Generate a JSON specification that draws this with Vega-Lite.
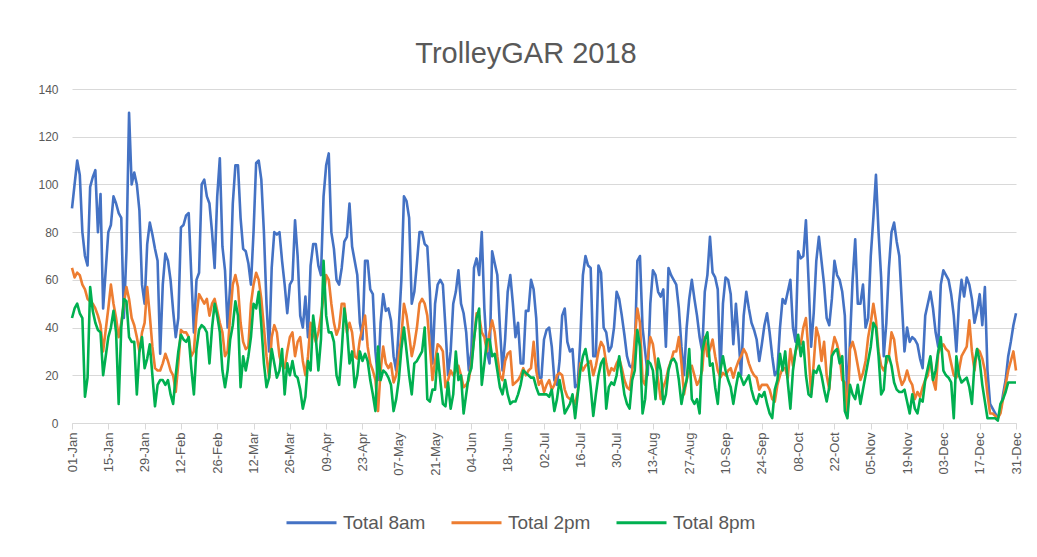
{
"$schema":"https://vega.github.io/schema/vega-lite/v6.json",
"width":944,"height":334,
"autosize":"none",
"padding":{"left":72,"top":89,"right":21,"bottom":134},
"background":"white",
"title":{"text":"TrolleyGAR 2018","font":"Liberation Sans","fontSize":29,"fontWeight":"normal","color":"#595959","anchor":"middle","dx":-18,"offset":14},
"config":{"view":{"stroke":null},"font":"Liberation Sans"},
"data":{"values":[
{"d":"2018-01-01","Total 8am":90,"Total 2pm":65,"Total 8pm":44},
{"d":"2018-01-02","Total 8am":100,"Total 2pm":61,"Total 8pm":48},
{"d":"2018-01-03","Total 8am":110,"Total 2pm":63,"Total 8pm":50},
{"d":"2018-01-04","Total 8am":104,"Total 2pm":62,"Total 8pm":46},
{"d":"2018-01-05","Total 8am":80,"Total 2pm":58,"Total 8pm":44},
{"d":"2018-01-06","Total 8am":70,"Total 2pm":56,"Total 8pm":11},
{"d":"2018-01-07","Total 8am":66,"Total 2pm":52,"Total 8pm":19},
{"d":"2018-01-08","Total 8am":99,"Total 2pm":51,"Total 8pm":57},
{"d":"2018-01-09","Total 8am":103,"Total 2pm":50,"Total 8pm":47},
{"d":"2018-01-10","Total 8am":106,"Total 2pm":48,"Total 8pm":42},
{"d":"2018-01-11","Total 8am":80,"Total 2pm":45,"Total 8pm":39},
{"d":"2018-01-12","Total 8am":96,"Total 2pm":41,"Total 8pm":38},
{"d":"2018-01-13","Total 8am":48,"Total 2pm":30,"Total 8pm":20},
{"d":"2018-01-14","Total 8am":64,"Total 2pm":39,"Total 8pm":28},
{"d":"2018-01-15","Total 8am":80,"Total 2pm":48,"Total 8pm":36},
{"d":"2018-01-16","Total 8am":83,"Total 2pm":58,"Total 8pm":40},
{"d":"2018-01-17","Total 8am":95,"Total 2pm":50,"Total 8pm":47},
{"d":"2018-01-18","Total 8am":92,"Total 2pm":44,"Total 8pm":38},
{"d":"2018-01-19","Total 8am":88,"Total 2pm":36,"Total 8pm":8},
{"d":"2018-01-20","Total 8am":86,"Total 2pm":42,"Total 8pm":40},
{"d":"2018-01-21","Total 8am":44,"Total 2pm":50,"Total 8pm":52},
{"d":"2018-01-22","Total 8am":72,"Total 2pm":57,"Total 8pm":51},
{"d":"2018-01-23","Total 8am":130,"Total 2pm":52,"Total 8pm":36},
{"d":"2018-01-24","Total 8am":100,"Total 2pm":44,"Total 8pm":34},
{"d":"2018-01-25","Total 8am":105,"Total 2pm":41,"Total 8pm":34},
{"d":"2018-01-26","Total 8am":100,"Total 2pm":36,"Total 8pm":12},
{"d":"2018-01-27","Total 8am":89,"Total 2pm":30,"Total 8pm":30},
{"d":"2018-01-28","Total 8am":58,"Total 2pm":38,"Total 8pm":36},
{"d":"2018-01-29","Total 8am":50,"Total 2pm":42,"Total 8pm":23},
{"d":"2018-01-30","Total 8am":75,"Total 2pm":57,"Total 8pm":27},
{"d":"2018-01-31","Total 8am":84,"Total 2pm":45,"Total 8pm":33},
{"d":"2018-02-01","Total 8am":79,"Total 2pm":32,"Total 8pm":20},
{"d":"2018-02-02","Total 8am":73,"Total 2pm":23,"Total 8pm":7},
{"d":"2018-02-03","Total 8am":68,"Total 2pm":22,"Total 8pm":16},
{"d":"2018-02-04","Total 8am":29,"Total 2pm":22,"Total 8pm":18},
{"d":"2018-02-05","Total 8am":58,"Total 2pm":25,"Total 8pm":18},
{"d":"2018-02-06","Total 8am":71,"Total 2pm":29,"Total 8pm":16},
{"d":"2018-02-07","Total 8am":68,"Total 2pm":26,"Total 8pm":18},
{"d":"2018-02-08","Total 8am":60,"Total 2pm":22,"Total 8pm":12},
{"d":"2018-02-09","Total 8am":47,"Total 2pm":20,"Total 8pm":8},
{"d":"2018-02-10","Total 8am":36,"Total 2pm":13,"Total 8pm":20},
{"d":"2018-02-11","Total 8am":44,"Total 2pm":25,"Total 8pm":30},
{"d":"2018-02-12","Total 8am":82,"Total 2pm":39,"Total 8pm":37},
{"d":"2018-02-13","Total 8am":83,"Total 2pm":38,"Total 8pm":35},
{"d":"2018-02-14","Total 8am":87,"Total 2pm":38,"Total 8pm":34},
{"d":"2018-02-15","Total 8am":88,"Total 2pm":36,"Total 8pm":36},
{"d":"2018-02-16","Total 8am":62,"Total 2pm":28,"Total 8pm":23},
{"d":"2018-02-17","Total 8am":38,"Total 2pm":30,"Total 8pm":12},
{"d":"2018-02-18","Total 8am":60,"Total 2pm":45,"Total 8pm":31},
{"d":"2018-02-19","Total 8am":63,"Total 2pm":54,"Total 8pm":39},
{"d":"2018-02-20","Total 8am":100,"Total 2pm":52,"Total 8pm":41},
{"d":"2018-02-21","Total 8am":102,"Total 2pm":50,"Total 8pm":40},
{"d":"2018-02-22","Total 8am":95,"Total 2pm":52,"Total 8pm":38},
{"d":"2018-02-23","Total 8am":92,"Total 2pm":45,"Total 8pm":25},
{"d":"2018-02-24","Total 8am":80,"Total 2pm":50,"Total 8pm":40},
{"d":"2018-02-25","Total 8am":65,"Total 2pm":52,"Total 8pm":50},
{"d":"2018-02-26","Total 8am":95,"Total 2pm":47,"Total 8pm":45},
{"d":"2018-02-27","Total 8am":111,"Total 2pm":42,"Total 8pm":38},
{"d":"2018-02-28","Total 8am":74,"Total 2pm":38,"Total 8pm":22},
{"d":"2018-03-01","Total 8am":64,"Total 2pm":28,"Total 8pm":15},
{"d":"2018-03-02","Total 8am":40,"Total 2pm":30,"Total 8pm":22},
{"d":"2018-03-03","Total 8am":58,"Total 2pm":45,"Total 8pm":35},
{"d":"2018-03-04","Total 8am":92,"Total 2pm":58,"Total 8pm":41},
{"d":"2018-03-05","Total 8am":108,"Total 2pm":62,"Total 8pm":51},
{"d":"2018-03-06","Total 8am":108,"Total 2pm":57,"Total 8pm":45},
{"d":"2018-03-07","Total 8am":86,"Total 2pm":42,"Total 8pm":15},
{"d":"2018-03-08","Total 8am":73,"Total 2pm":34,"Total 8pm":28},
{"d":"2018-03-09","Total 8am":72,"Total 2pm":31,"Total 8pm":22},
{"d":"2018-03-10","Total 8am":67,"Total 2pm":32,"Total 8pm":28},
{"d":"2018-03-11","Total 8am":58,"Total 2pm":50,"Total 8pm":36},
{"d":"2018-03-12","Total 8am":80,"Total 2pm":58,"Total 8pm":50},
{"d":"2018-03-13","Total 8am":109,"Total 2pm":63,"Total 8pm":48},
{"d":"2018-03-14","Total 8am":110,"Total 2pm":60,"Total 8pm":55},
{"d":"2018-03-15","Total 8am":102,"Total 2pm":52,"Total 8pm":41},
{"d":"2018-03-16","Total 8am":80,"Total 2pm":40,"Total 8pm":25},
{"d":"2018-03-17","Total 8am":50,"Total 2pm":28,"Total 8pm":15},
{"d":"2018-03-18","Total 8am":30,"Total 2pm":19,"Total 8pm":19},
{"d":"2018-03-19","Total 8am":65,"Total 2pm":36,"Total 8pm":31},
{"d":"2018-03-20","Total 8am":80,"Total 2pm":41,"Total 8pm":25},
{"d":"2018-03-21","Total 8am":79,"Total 2pm":38,"Total 8pm":19},
{"d":"2018-03-22","Total 8am":80,"Total 2pm":28,"Total 8pm":22},
{"d":"2018-03-23","Total 8am":68,"Total 2pm":24,"Total 8pm":31},
{"d":"2018-03-24","Total 8am":58,"Total 2pm":23,"Total 8pm":12},
{"d":"2018-03-25","Total 8am":46,"Total 2pm":30,"Total 8pm":25},
{"d":"2018-03-26","Total 8am":58,"Total 2pm":36,"Total 8pm":20},
{"d":"2018-03-27","Total 8am":60,"Total 2pm":38,"Total 8pm":26},
{"d":"2018-03-28","Total 8am":85,"Total 2pm":28,"Total 8pm":20},
{"d":"2018-03-29","Total 8am":70,"Total 2pm":34,"Total 8pm":19},
{"d":"2018-03-30","Total 8am":45,"Total 2pm":36,"Total 8pm":14},
{"d":"2018-03-31","Total 8am":40,"Total 2pm":26,"Total 8pm":6},
{"d":"2018-04-01","Total 8am":53,"Total 2pm":20,"Total 8pm":11},
{"d":"2018-04-02","Total 8am":36,"Total 2pm":28,"Total 8pm":26},
{"d":"2018-04-03","Total 8am":66,"Total 2pm":42,"Total 8pm":22},
{"d":"2018-04-04","Total 8am":75,"Total 2pm":38,"Total 8pm":45},
{"d":"2018-04-05","Total 8am":75,"Total 2pm":34,"Total 8pm":36},
{"d":"2018-04-06","Total 8am":66,"Total 2pm":38,"Total 8pm":22},
{"d":"2018-04-07","Total 8am":62,"Total 2pm":45,"Total 8pm":35},
{"d":"2018-04-08","Total 8am":95,"Total 2pm":53,"Total 8pm":68},
{"d":"2018-04-09","Total 8am":108,"Total 2pm":62,"Total 8pm":45},
{"d":"2018-04-10","Total 8am":113,"Total 2pm":60,"Total 8pm":38},
{"d":"2018-04-11","Total 8am":80,"Total 2pm":50,"Total 8pm":38},
{"d":"2018-04-12","Total 8am":73,"Total 2pm":42,"Total 8pm":34},
{"d":"2018-04-13","Total 8am":60,"Total 2pm":37,"Total 8pm":20},
{"d":"2018-04-14","Total 8am":58,"Total 2pm":40,"Total 8pm":16},
{"d":"2018-04-15","Total 8am":65,"Total 2pm":50,"Total 8pm":30},
{"d":"2018-04-16","Total 8am":76,"Total 2pm":50,"Total 8pm":48},
{"d":"2018-04-17","Total 8am":78,"Total 2pm":38,"Total 8pm":40},
{"d":"2018-04-18","Total 8am":92,"Total 2pm":42,"Total 8pm":25},
{"d":"2018-04-19","Total 8am":74,"Total 2pm":38,"Total 8pm":30},
{"d":"2018-04-20","Total 8am":68,"Total 2pm":28,"Total 8pm":15},
{"d":"2018-04-21","Total 8am":62,"Total 2pm":27,"Total 8pm":20},
{"d":"2018-04-22","Total 8am":42,"Total 2pm":35,"Total 8pm":30},
{"d":"2018-04-23","Total 8am":35,"Total 2pm":40,"Total 8pm":26},
{"d":"2018-04-24","Total 8am":68,"Total 2pm":45,"Total 8pm":29},
{"d":"2018-04-25","Total 8am":68,"Total 2pm":32,"Total 8pm":26},
{"d":"2018-04-26","Total 8am":56,"Total 2pm":25,"Total 8pm":18},
{"d":"2018-04-27","Total 8am":54,"Total 2pm":22,"Total 8pm":12},
{"d":"2018-04-28","Total 8am":30,"Total 2pm":18,"Total 8pm":5},
{"d":"2018-04-29","Total 8am":18,"Total 2pm":5,"Total 8pm":32},
{"d":"2018-04-30","Total 8am":42,"Total 2pm":22,"Total 8pm":18},
{"d":"2018-05-01","Total 8am":54,"Total 2pm":32,"Total 8pm":22},
{"d":"2018-05-02","Total 8am":47,"Total 2pm":25,"Total 8pm":21},
{"d":"2018-05-03","Total 8am":48,"Total 2pm":23,"Total 8pm":19},
{"d":"2018-05-04","Total 8am":43,"Total 2pm":25,"Total 8pm":16},
{"d":"2018-05-05","Total 8am":28,"Total 2pm":17,"Total 8pm":5},
{"d":"2018-05-06","Total 8am":22,"Total 2pm":20,"Total 8pm":10},
{"d":"2018-05-07","Total 8am":40,"Total 2pm":28,"Total 8pm":18},
{"d":"2018-05-08","Total 8am":60,"Total 2pm":36,"Total 8pm":31},
{"d":"2018-05-09","Total 8am":95,"Total 2pm":50,"Total 8pm":40},
{"d":"2018-05-10","Total 8am":93,"Total 2pm":45,"Total 8pm":30},
{"d":"2018-05-11","Total 8am":86,"Total 2pm":37,"Total 8pm":20},
{"d":"2018-05-12","Total 8am":50,"Total 2pm":28,"Total 8pm":12},
{"d":"2018-05-13","Total 8am":55,"Total 2pm":33,"Total 8pm":25},
{"d":"2018-05-14","Total 8am":67,"Total 2pm":40,"Total 8pm":26},
{"d":"2018-05-15","Total 8am":80,"Total 2pm":50,"Total 8pm":28},
{"d":"2018-05-16","Total 8am":80,"Total 2pm":52,"Total 8pm":30},
{"d":"2018-05-17","Total 8am":75,"Total 2pm":50,"Total 8pm":40},
{"d":"2018-05-18","Total 8am":74,"Total 2pm":45,"Total 8pm":10},
{"d":"2018-05-19","Total 8am":55,"Total 2pm":32,"Total 8pm":9},
{"d":"2018-05-20","Total 8am":25,"Total 2pm":18,"Total 8pm":14},
{"d":"2018-05-21","Total 8am":50,"Total 2pm":26,"Total 8pm":14},
{"d":"2018-05-22","Total 8am":58,"Total 2pm":33,"Total 8pm":29},
{"d":"2018-05-23","Total 8am":60,"Total 2pm":32,"Total 8pm":18},
{"d":"2018-05-24","Total 8am":58,"Total 2pm":30,"Total 8pm":8},
{"d":"2018-05-25","Total 8am":40,"Total 2pm":15,"Total 8pm":7},
{"d":"2018-05-26","Total 8am":20,"Total 2pm":18,"Total 8pm":17},
{"d":"2018-05-27","Total 8am":30,"Total 2pm":22,"Total 8pm":6},
{"d":"2018-05-28","Total 8am":50,"Total 2pm":20,"Total 8pm":12},
{"d":"2018-05-29","Total 8am":55,"Total 2pm":22,"Total 8pm":30},
{"d":"2018-05-30","Total 8am":64,"Total 2pm":24,"Total 8pm":18},
{"d":"2018-05-31","Total 8am":50,"Total 2pm":20,"Total 8pm":20},
{"d":"2018-06-01","Total 8am":46,"Total 2pm":15,"Total 8pm":4},
{"d":"2018-06-02","Total 8am":38,"Total 2pm":16,"Total 8pm":12},
{"d":"2018-06-03","Total 8am":22,"Total 2pm":18,"Total 8pm":20},
{"d":"2018-06-04","Total 8am":30,"Total 2pm":25,"Total 8pm":23},
{"d":"2018-06-05","Total 8am":65,"Total 2pm":35,"Total 8pm":35},
{"d":"2018-06-06","Total 8am":69,"Total 2pm":46,"Total 8pm":44},
{"d":"2018-06-07","Total 8am":62,"Total 2pm":45,"Total 8pm":48},
{"d":"2018-06-08","Total 8am":80,"Total 2pm":38,"Total 8pm":16},
{"d":"2018-06-09","Total 8am":48,"Total 2pm":36,"Total 8pm":25},
{"d":"2018-06-10","Total 8am":30,"Total 2pm":30,"Total 8pm":35},
{"d":"2018-06-11","Total 8am":25,"Total 2pm":38,"Total 8pm":35},
{"d":"2018-06-12","Total 8am":72,"Total 2pm":43,"Total 8pm":28},
{"d":"2018-06-13","Total 8am":67,"Total 2pm":38,"Total 8pm":29},
{"d":"2018-06-14","Total 8am":62,"Total 2pm":28,"Total 8pm":22},
{"d":"2018-06-15","Total 8am":40,"Total 2pm":20,"Total 8pm":15},
{"d":"2018-06-16","Total 8am":22,"Total 2pm":18,"Total 8pm":12},
{"d":"2018-06-17","Total 8am":35,"Total 2pm":26,"Total 8pm":18},
{"d":"2018-06-18","Total 8am":55,"Total 2pm":29,"Total 8pm":12},
{"d":"2018-06-19","Total 8am":62,"Total 2pm":30,"Total 8pm":8},
{"d":"2018-06-20","Total 8am":50,"Total 2pm":16,"Total 8pm":9},
{"d":"2018-06-21","Total 8am":36,"Total 2pm":17,"Total 8pm":9},
{"d":"2018-06-22","Total 8am":42,"Total 2pm":18,"Total 8pm":12},
{"d":"2018-06-23","Total 8am":25,"Total 2pm":20,"Total 8pm":16},
{"d":"2018-06-24","Total 8am":25,"Total 2pm":23,"Total 8pm":22},
{"d":"2018-06-25","Total 8am":47,"Total 2pm":20,"Total 8pm":21},
{"d":"2018-06-26","Total 8am":47,"Total 2pm":22,"Total 8pm":20},
{"d":"2018-06-27","Total 8am":60,"Total 2pm":23,"Total 8pm":19},
{"d":"2018-06-28","Total 8am":56,"Total 2pm":34,"Total 8pm":19},
{"d":"2018-06-29","Total 8am":44,"Total 2pm":22,"Total 8pm":15},
{"d":"2018-06-30","Total 8am":19,"Total 2pm":16,"Total 8pm":12},
{"d":"2018-07-01","Total 8am":19,"Total 2pm":18,"Total 8pm":12},
{"d":"2018-07-02","Total 8am":35,"Total 2pm":13,"Total 8pm":12},
{"d":"2018-07-03","Total 8am":39,"Total 2pm":16,"Total 8pm":12},
{"d":"2018-07-04","Total 8am":40,"Total 2pm":18,"Total 8pm":11},
{"d":"2018-07-05","Total 8am":32,"Total 2pm":14,"Total 8pm":14},
{"d":"2018-07-06","Total 8am":18,"Total 2pm":16,"Total 8pm":5},
{"d":"2018-07-07","Total 8am":16,"Total 2pm":20,"Total 8pm":10},
{"d":"2018-07-08","Total 8am":26,"Total 2pm":21,"Total 8pm":18},
{"d":"2018-07-09","Total 8am":45,"Total 2pm":20,"Total 8pm":12},
{"d":"2018-07-10","Total 8am":48,"Total 2pm":14,"Total 8pm":4},
{"d":"2018-07-11","Total 8am":34,"Total 2pm":11,"Total 8pm":6},
{"d":"2018-07-12","Total 8am":30,"Total 2pm":10,"Total 8pm":8},
{"d":"2018-07-13","Total 8am":31,"Total 2pm":10,"Total 8pm":12},
{"d":"2018-07-14","Total 8am":15,"Total 2pm":8,"Total 8pm":2},
{"d":"2018-07-15","Total 8am":16,"Total 2pm":13,"Total 8pm":12},
{"d":"2018-07-16","Total 8am":35,"Total 2pm":25,"Total 8pm":22},
{"d":"2018-07-17","Total 8am":62,"Total 2pm":22,"Total 8pm":28},
{"d":"2018-07-18","Total 8am":70,"Total 2pm":24,"Total 8pm":31},
{"d":"2018-07-19","Total 8am":66,"Total 2pm":25,"Total 8pm":25},
{"d":"2018-07-20","Total 8am":65,"Total 2pm":26,"Total 8pm":15},
{"d":"2018-07-21","Total 8am":28,"Total 2pm":20,"Total 8pm":3},
{"d":"2018-07-22","Total 8am":28,"Total 2pm":24,"Total 8pm":12},
{"d":"2018-07-23","Total 8am":66,"Total 2pm":30,"Total 8pm":20},
{"d":"2018-07-24","Total 8am":63,"Total 2pm":34,"Total 8pm":25},
{"d":"2018-07-25","Total 8am":40,"Total 2pm":32,"Total 8pm":27},
{"d":"2018-07-26","Total 8am":38,"Total 2pm":25,"Total 8pm":6},
{"d":"2018-07-27","Total 8am":30,"Total 2pm":20,"Total 8pm":15},
{"d":"2018-07-28","Total 8am":32,"Total 2pm":23,"Total 8pm":17},
{"d":"2018-07-29","Total 8am":40,"Total 2pm":22,"Total 8pm":16},
{"d":"2018-07-30","Total 8am":55,"Total 2pm":25,"Total 8pm":20},
{"d":"2018-07-31","Total 8am":52,"Total 2pm":27,"Total 8pm":28},
{"d":"2018-08-01","Total 8am":45,"Total 2pm":23,"Total 8pm":20},
{"d":"2018-08-02","Total 8am":37,"Total 2pm":18,"Total 8pm":12},
{"d":"2018-08-03","Total 8am":28,"Total 2pm":15,"Total 8pm":8},
{"d":"2018-08-04","Total 8am":24,"Total 2pm":14,"Total 8pm":6},
{"d":"2018-08-05","Total 8am":23,"Total 2pm":22,"Total 8pm":18},
{"d":"2018-08-06","Total 8am":30,"Total 2pm":35,"Total 8pm":22},
{"d":"2018-08-07","Total 8am":68,"Total 2pm":48,"Total 8pm":39},
{"d":"2018-08-08","Total 8am":70,"Total 2pm":42,"Total 8pm":32},
{"d":"2018-08-09","Total 8am":40,"Total 2pm":18,"Total 8pm":4},
{"d":"2018-08-10","Total 8am":30,"Total 2pm":16,"Total 8pm":10},
{"d":"2018-08-11","Total 8am":20,"Total 2pm":27,"Total 8pm":26},
{"d":"2018-08-12","Total 8am":50,"Total 2pm":36,"Total 8pm":25},
{"d":"2018-08-13","Total 8am":64,"Total 2pm":33,"Total 8pm":22},
{"d":"2018-08-14","Total 8am":62,"Total 2pm":25,"Total 8pm":10},
{"d":"2018-08-15","Total 8am":55,"Total 2pm":18,"Total 8pm":27},
{"d":"2018-08-16","Total 8am":53,"Total 2pm":10,"Total 8pm":22},
{"d":"2018-08-17","Total 8am":56,"Total 2pm":15,"Total 8pm":8},
{"d":"2018-08-18","Total 8am":32,"Total 2pm":18,"Total 8pm":12},
{"d":"2018-08-19","Total 8am":65,"Total 2pm":23,"Total 8pm":22},
{"d":"2018-08-20","Total 8am":62,"Total 2pm":26,"Total 8pm":26},
{"d":"2018-08-21","Total 8am":60,"Total 2pm":30,"Total 8pm":27},
{"d":"2018-08-22","Total 8am":58,"Total 2pm":30,"Total 8pm":25},
{"d":"2018-08-23","Total 8am":48,"Total 2pm":36,"Total 8pm":18},
{"d":"2018-08-24","Total 8am":32,"Total 2pm":25,"Total 8pm":8},
{"d":"2018-08-25","Total 8am":20,"Total 2pm":12,"Total 8pm":14},
{"d":"2018-08-26","Total 8am":40,"Total 2pm":18,"Total 8pm":18},
{"d":"2018-08-27","Total 8am":52,"Total 2pm":22,"Total 8pm":31},
{"d":"2018-08-28","Total 8am":60,"Total 2pm":24,"Total 8pm":10},
{"d":"2018-08-29","Total 8am":52,"Total 2pm":20,"Total 8pm":8},
{"d":"2018-08-30","Total 8am":45,"Total 2pm":16,"Total 8pm":10},
{"d":"2018-08-31","Total 8am":36,"Total 2pm":18,"Total 8pm":4},
{"d":"2018-09-01","Total 8am":30,"Total 2pm":22,"Total 8pm":30},
{"d":"2018-09-02","Total 8am":55,"Total 2pm":36,"Total 8pm":35},
{"d":"2018-09-03","Total 8am":62,"Total 2pm":28,"Total 8pm":38},
{"d":"2018-09-04","Total 8am":78,"Total 2pm":31,"Total 8pm":24},
{"d":"2018-09-05","Total 8am":63,"Total 2pm":35,"Total 8pm":25},
{"d":"2018-09-06","Total 8am":61,"Total 2pm":28,"Total 8pm":15},
{"d":"2018-09-07","Total 8am":56,"Total 2pm":22,"Total 8pm":8},
{"d":"2018-09-08","Total 8am":20,"Total 2pm":19,"Total 8pm":22},
{"d":"2018-09-09","Total 8am":50,"Total 2pm":21,"Total 8pm":28},
{"d":"2018-09-10","Total 8am":61,"Total 2pm":20,"Total 8pm":22},
{"d":"2018-09-11","Total 8am":60,"Total 2pm":22,"Total 8pm":18},
{"d":"2018-09-12","Total 8am":54,"Total 2pm":23,"Total 8pm":15},
{"d":"2018-09-13","Total 8am":33,"Total 2pm":19,"Total 8pm":8},
{"d":"2018-09-14","Total 8am":50,"Total 2pm":23,"Total 8pm":15},
{"d":"2018-09-15","Total 8am":36,"Total 2pm":26,"Total 8pm":21},
{"d":"2018-09-16","Total 8am":20,"Total 2pm":28,"Total 8pm":19},
{"d":"2018-09-17","Total 8am":45,"Total 2pm":31,"Total 8pm":16},
{"d":"2018-09-18","Total 8am":55,"Total 2pm":29,"Total 8pm":18},
{"d":"2018-09-19","Total 8am":48,"Total 2pm":25,"Total 8pm":20},
{"d":"2018-09-20","Total 8am":42,"Total 2pm":22,"Total 8pm":14},
{"d":"2018-09-21","Total 8am":39,"Total 2pm":20,"Total 8pm":10},
{"d":"2018-09-22","Total 8am":35,"Total 2pm":19,"Total 8pm":8},
{"d":"2018-09-23","Total 8am":26,"Total 2pm":14,"Total 8pm":12},
{"d":"2018-09-24","Total 8am":33,"Total 2pm":16,"Total 8pm":11},
{"d":"2018-09-25","Total 8am":41,"Total 2pm":16,"Total 8pm":13},
{"d":"2018-09-26","Total 8am":46,"Total 2pm":16,"Total 8pm":8},
{"d":"2018-09-27","Total 8am":38,"Total 2pm":14,"Total 8pm":4},
{"d":"2018-09-28","Total 8am":28,"Total 2pm":10,"Total 8pm":2},
{"d":"2018-09-29","Total 8am":20,"Total 2pm":9,"Total 8pm":14},
{"d":"2018-09-30","Total 8am":22,"Total 2pm":16,"Total 8pm":18},
{"d":"2018-10-01","Total 8am":40,"Total 2pm":20,"Total 8pm":29},
{"d":"2018-10-02","Total 8am":52,"Total 2pm":23,"Total 8pm":22},
{"d":"2018-10-03","Total 8am":50,"Total 2pm":23,"Total 8pm":30},
{"d":"2018-10-04","Total 8am":55,"Total 2pm":19,"Total 8pm":17},
{"d":"2018-10-05","Total 8am":60,"Total 2pm":31,"Total 8pm":6},
{"d":"2018-10-06","Total 8am":40,"Total 2pm":24,"Total 8pm":22},
{"d":"2018-10-07","Total 8am":34,"Total 2pm":30,"Total 8pm":30},
{"d":"2018-10-08","Total 8am":72,"Total 2pm":33,"Total 8pm":37},
{"d":"2018-10-09","Total 8am":69,"Total 2pm":33,"Total 8pm":28},
{"d":"2018-10-10","Total 8am":70,"Total 2pm":40,"Total 8pm":34},
{"d":"2018-10-11","Total 8am":85,"Total 2pm":44,"Total 8pm":20},
{"d":"2018-10-12","Total 8am":60,"Total 2pm":30,"Total 8pm":12},
{"d":"2018-10-13","Total 8am":32,"Total 2pm":12,"Total 8pm":11},
{"d":"2018-10-14","Total 8am":46,"Total 2pm":25,"Total 8pm":22},
{"d":"2018-10-15","Total 8am":68,"Total 2pm":40,"Total 8pm":21},
{"d":"2018-10-16","Total 8am":78,"Total 2pm":36,"Total 8pm":24},
{"d":"2018-10-17","Total 8am":68,"Total 2pm":26,"Total 8pm":20},
{"d":"2018-10-18","Total 8am":58,"Total 2pm":34,"Total 8pm":14},
{"d":"2018-10-19","Total 8am":44,"Total 2pm":20,"Total 8pm":9},
{"d":"2018-10-20","Total 8am":41,"Total 2pm":14,"Total 8pm":15},
{"d":"2018-10-21","Total 8am":52,"Total 2pm":30,"Total 8pm":28},
{"d":"2018-10-22","Total 8am":68,"Total 2pm":36,"Total 8pm":30},
{"d":"2018-10-23","Total 8am":62,"Total 2pm":33,"Total 8pm":31},
{"d":"2018-10-24","Total 8am":60,"Total 2pm":28,"Total 8pm":25},
{"d":"2018-10-25","Total 8am":55,"Total 2pm":18,"Total 8pm":28},
{"d":"2018-10-26","Total 8am":45,"Total 2pm":17,"Total 8pm":5},
{"d":"2018-10-27","Total 8am":8,"Total 2pm":3,"Total 8pm":2},
{"d":"2018-10-28","Total 8am":35,"Total 2pm":31,"Total 8pm":16},
{"d":"2018-10-29","Total 8am":60,"Total 2pm":34,"Total 8pm":12},
{"d":"2018-10-30","Total 8am":77,"Total 2pm":30,"Total 8pm":10},
{"d":"2018-10-31","Total 8am":50,"Total 2pm":24,"Total 8pm":16},
{"d":"2018-11-01","Total 8am":50,"Total 2pm":18,"Total 8pm":8},
{"d":"2018-11-02","Total 8am":58,"Total 2pm":21,"Total 8pm":14},
{"d":"2018-11-03","Total 8am":40,"Total 2pm":26,"Total 8pm":20},
{"d":"2018-11-04","Total 8am":44,"Total 2pm":36,"Total 8pm":26},
{"d":"2018-11-05","Total 8am":70,"Total 2pm":42,"Total 8pm":32},
{"d":"2018-11-06","Total 8am":86,"Total 2pm":50,"Total 8pm":42},
{"d":"2018-11-07","Total 8am":104,"Total 2pm":43,"Total 8pm":40},
{"d":"2018-11-08","Total 8am":80,"Total 2pm":30,"Total 8pm":28},
{"d":"2018-11-09","Total 8am":61,"Total 2pm":24,"Total 8pm":12},
{"d":"2018-11-10","Total 8am":28,"Total 2pm":22,"Total 8pm":14},
{"d":"2018-11-11","Total 8am":42,"Total 2pm":25,"Total 8pm":28},
{"d":"2018-11-12","Total 8am":65,"Total 2pm":28,"Total 8pm":28},
{"d":"2018-11-13","Total 8am":80,"Total 2pm":38,"Total 8pm":24},
{"d":"2018-11-14","Total 8am":84,"Total 2pm":35,"Total 8pm":17},
{"d":"2018-11-15","Total 8am":76,"Total 2pm":26,"Total 8pm":14},
{"d":"2018-11-16","Total 8am":70,"Total 2pm":20,"Total 8pm":13},
{"d":"2018-11-17","Total 8am":50,"Total 2pm":16,"Total 8pm":13},
{"d":"2018-11-18","Total 8am":30,"Total 2pm":18,"Total 8pm":14},
{"d":"2018-11-19","Total 8am":40,"Total 2pm":22,"Total 8pm":9},
{"d":"2018-11-20","Total 8am":34,"Total 2pm":18,"Total 8pm":4},
{"d":"2018-11-21","Total 8am":36,"Total 2pm":16,"Total 8pm":12},
{"d":"2018-11-22","Total 8am":35,"Total 2pm":10,"Total 8pm":6},
{"d":"2018-11-23","Total 8am":33,"Total 2pm":13,"Total 8pm":4},
{"d":"2018-11-24","Total 8am":27,"Total 2pm":11,"Total 8pm":10},
{"d":"2018-11-25","Total 8am":23,"Total 2pm":15,"Total 8pm":9},
{"d":"2018-11-26","Total 8am":45,"Total 2pm":18,"Total 8pm":18},
{"d":"2018-11-27","Total 8am":50,"Total 2pm":20,"Total 8pm":23},
{"d":"2018-11-28","Total 8am":55,"Total 2pm":27,"Total 8pm":28},
{"d":"2018-11-29","Total 8am":48,"Total 2pm":18,"Total 8pm":18},
{"d":"2018-11-30","Total 8am":38,"Total 2pm":14,"Total 8pm":22},
{"d":"2018-12-01","Total 8am":32,"Total 2pm":29,"Total 8pm":30},
{"d":"2018-12-02","Total 8am":58,"Total 2pm":32,"Total 8pm":36},
{"d":"2018-12-03","Total 8am":64,"Total 2pm":33,"Total 8pm":22},
{"d":"2018-12-04","Total 8am":62,"Total 2pm":31,"Total 8pm":20},
{"d":"2018-12-05","Total 8am":60,"Total 2pm":30,"Total 8pm":19},
{"d":"2018-12-06","Total 8am":54,"Total 2pm":25,"Total 8pm":17},
{"d":"2018-12-07","Total 8am":45,"Total 2pm":20,"Total 8pm":2},
{"d":"2018-12-08","Total 8am":30,"Total 2pm":19,"Total 8pm":28},
{"d":"2018-12-09","Total 8am":50,"Total 2pm":22,"Total 8pm":20},
{"d":"2018-12-10","Total 8am":60,"Total 2pm":28,"Total 8pm":17},
{"d":"2018-12-11","Total 8am":53,"Total 2pm":30,"Total 8pm":18},
{"d":"2018-12-12","Total 8am":61,"Total 2pm":32,"Total 8pm":19},
{"d":"2018-12-13","Total 8am":58,"Total 2pm":43,"Total 8pm":15},
{"d":"2018-12-14","Total 8am":52,"Total 2pm":30,"Total 8pm":8},
{"d":"2018-12-15","Total 8am":42,"Total 2pm":22,"Total 8pm":25},
{"d":"2018-12-16","Total 8am":47,"Total 2pm":31,"Total 8pm":31},
{"d":"2018-12-17","Total 8am":54,"Total 2pm":30,"Total 8pm":26},
{"d":"2018-12-18","Total 8am":41,"Total 2pm":27,"Total 8pm":16},
{"d":"2018-12-19","Total 8am":57,"Total 2pm":22,"Total 8pm":9},
{"d":"2018-12-20","Total 8am":22,"Total 2pm":12,"Total 8pm":2},
{"d":"2018-12-21","Total 8am":8,"Total 2pm":4,"Total 8pm":2},
{"d":"2018-12-22","Total 8am":6,"Total 2pm":4,"Total 8pm":2},
{"d":"2018-12-23","Total 8am":4,"Total 2pm":3,"Total 8pm":2},
{"d":"2018-12-24","Total 8am":2,"Total 2pm":2,"Total 8pm":1},
{"d":"2018-12-25","Total 8am":5,"Total 2pm":4,"Total 8pm":8},
{"d":"2018-12-26","Total 8am":12,"Total 2pm":10,"Total 8pm":10},
{"d":"2018-12-27","Total 8am":18,"Total 2pm":16,"Total 8pm":13},
{"d":"2018-12-28","Total 8am":28,"Total 2pm":22,"Total 8pm":17},
{"d":"2018-12-29","Total 8am":34,"Total 2pm":26,"Total 8pm":17},
{"d":"2018-12-30","Total 8am":41,"Total 2pm":30,"Total 8pm":17},
{"d":"2018-12-31","Total 8am":46,"Total 2pm":22,"Total 8pm":17}
]},
"transform":[{"fold":["Total 8am","Total 2pm","Total 8pm"],"as":["series","value"]}],
"mark":{"type":"line","strokeWidth":2.6,"strokeJoin":"round"},
"encoding":{
"x":{"field":"d","type":"temporal",
"scale":{"type":"utc","domain":[1514764800000,1546214400000],"nice":false},
"axis":{"title":null,"grid":false,"domainColor":"#d9d9d9","tickColor":"#d9d9d9","tickSize":6,"labelAngle":-90,"labelFontSize":13,"labelColor":"#595959","labelPadding":3,"labelOverlap":false,"labelFlush":false,
"values":[1514764800000,1515974400000,1517184000000,1518393600000,1519603200000,1520812800000,1522022400000,1523232000000,1524441600000,1525651200000,1526860800000,1528070400000,1529280000000,1530489600000,1531699200000,1532908800000,1534118400000,1535328000000,1536537600000,1537747200000,1538956800000,1540166400000,1541376000000,1542585600000,1543795200000,1545004800000,1546214400000],
"labelExpr":"utcFormat(datum.value, '%d-%b')"}},
"y":{"field":"value","type":"quantitative",
"scale":{"domain":[0,140],"nice":false},
"axis":{"title":null,"values":[0,20,40,60,80,100,120,140],"domain":false,"ticks":false,"gridColor":"#d9d9d9","labelPadding":14,"labelFontSize":12,"labelColor":"#595959"}},
"color":{"field":"series","type":"nominal",
"scale":{"domain":["Total 8am","Total 2pm","Total 8pm"],"range":["#4472C4","#ED7D31","#00B050"]},
"legend":{"title":null,"orient":"none","direction":"horizontal","legendX":213,"legendY":407,"symbolType":"stroke","symbolSize":2500,"symbolStrokeWidth":3,"labelFontSize":19,"labelColor":"#595959","labelOffset":5,"columnPadding":19}}
}
}
